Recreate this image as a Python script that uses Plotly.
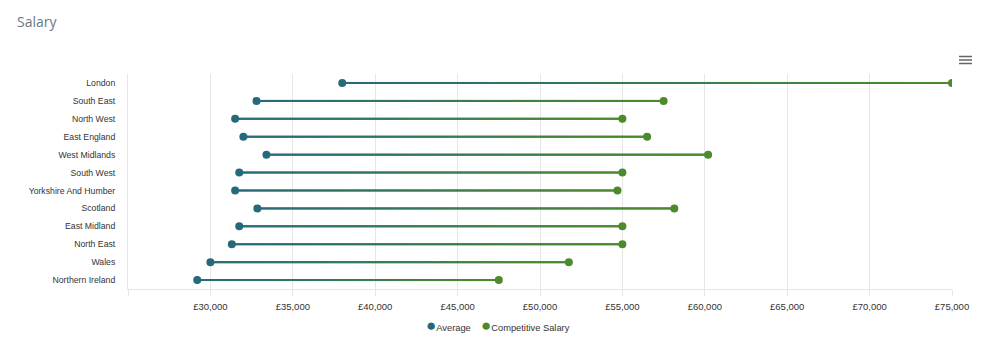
import plotly.graph_objects as go

# ---- data ----
regions = ["London", "South East", "North West", "East England", "West Midlands",
           "South West", "Yorkshire And Humber", "Scotland", "East Midland",
           "North East", "Wales", "Northern Ireland"]
average = [38000, 32800, 31500, 32000, 33400, 31750, 31500, 32850, 31750, 31300, 30000, 29200]
competitive = [75000, 57500, 55000, 56500, 60200, 55000, 54700, 58150, 55000, 55000, 51750, 47500]
tick_values = [25000, 30000, 35000, 40000, 45000, 50000, 55000, 60000, 65000, 70000, 75000]
tick_labels = ["", "£30,000", "£35,000", "£40,000", "£45,000", "£50,000",
               "£55,000", "£60,000", "£65,000", "£70,000", "£75,000"]
series_names = ["Average", "Competitive Salary"]

TEAL = (38, 106, 122)
GREEN = (76, 139, 43)
FONT = "Liberation Sans, Arial, sans-serif"

W, H = 999, 363
L, R, T, B = 128, 47, 74, 74


def mix(t):
    return "rgb(%d,%d,%d)" % tuple(round(TEAL[i] + (GREEN[i] - TEAL[i]) * t) for i in range(3))


fig = go.Figure()

# base connector line (mid colour) under the gradient pieces
bx, by = [], []
for reg, a, b in zip(regions, average, competitive):
    bx += [a, b, None]
    by += [reg, reg, None]
fig.add_trace(go.Scatter(x=bx, y=by, mode="lines", line=dict(color=mix(0.5), width=2),
                         showlegend=False, hoverinfo="skip"))

# gradient connector pieces, built from the data
N = 24
for k in range(N):
    t0, t1 = k / N, (k + 1) / N
    xs, ys = [], []
    for reg, a, b in zip(regions, average, competitive):
        xs += [a + (b - a) * t0, a + (b - a) * t1, None]
        ys += [reg, reg, None]
    fig.add_trace(go.Scatter(x=xs, y=ys, mode="lines", line=dict(color=mix((k + 0.5) / N), width=2),
                             showlegend=False, hoverinfo="skip"))

fig.add_trace(go.Scatter(x=average, y=regions, mode="markers", name=series_names[0],
                         marker=dict(color="rgb(%d,%d,%d)" % TEAL, size=8), showlegend=False))
fig.add_trace(go.Scatter(x=competitive, y=regions, mode="markers", name=series_names[1],
                         marker=dict(color="rgb(%d,%d,%d)" % GREEN, size=8), showlegend=False))

pw = W - L - R
ph = H - T - B


def px(x):
    return (x - L) / pw


def py(y):
    return (H - B - y) / ph


shapes = []
for yy in (56.5, 60, 63.5):
    shapes.append(dict(type="line", xref="paper", yref="paper",
                       x0=px(959), x1=px(972), y0=py(yy), y1=py(yy),
                       line=dict(color="#666666", width=1.5)))

# legend drawn as text annotations
annotations = []
leg_items = [(series_names[0], TEAL, 423.5), (series_names[1], GREEN, 478.5)]
for name, c, x0 in leg_items:
    annotations.append(dict(
        xref="paper", yref="paper", x=px(x0), y=py(325.5), xanchor="left", yanchor="middle",
        showarrow=False,
        text="<span style='font-size:17px;color:rgb(%d,%d,%d)'>●</span>%s" % (c + (name,)),
        font=dict(family=FONT, size=9.3, color="#333333")))

fig.update_layout(
    width=W, height=H,
    margin=dict(l=L, r=R, t=T, b=B, autoexpand=False),
    paper_bgcolor="white", plot_bgcolor="white",
    title=dict(text="Salary", x=17 / W, xanchor="left", xref="container",
               y=1 - 22.5 / H, yanchor="middle", yref="container",
               font=dict(family="Open Sans, sans-serif", size=14, color="#6b7785")),
    xaxis=dict(range=[25000, 75000], tickvals=tick_values, ticktext=tick_labels,
               showgrid=True, gridcolor="#e6e6e6", gridwidth=1,
               zeroline=False, showline=True, linecolor="#e6e6e6",
               ticks="outside", ticklen=6, tickcolor="#e6e6e6",
               ticklabelstandoff=3, automargin=False,
               tickfont=dict(family=FONT, size=9.5, color="#333333")),
    yaxis=dict(type="category", categoryorder="array", categoryarray=regions,
               range=[11.5, -0.5], showgrid=False, zeroline=False,
               showline=True, linecolor="#e6e6e6", ticks="",
               ticklabelstandoff=10, automargin=False,
               tickfont=dict(family=FONT, size=8.7, color="#333333")),
    annotations=annotations,
    shapes=shapes,
    showlegend=False,
)

fig.write_html("out.html")
